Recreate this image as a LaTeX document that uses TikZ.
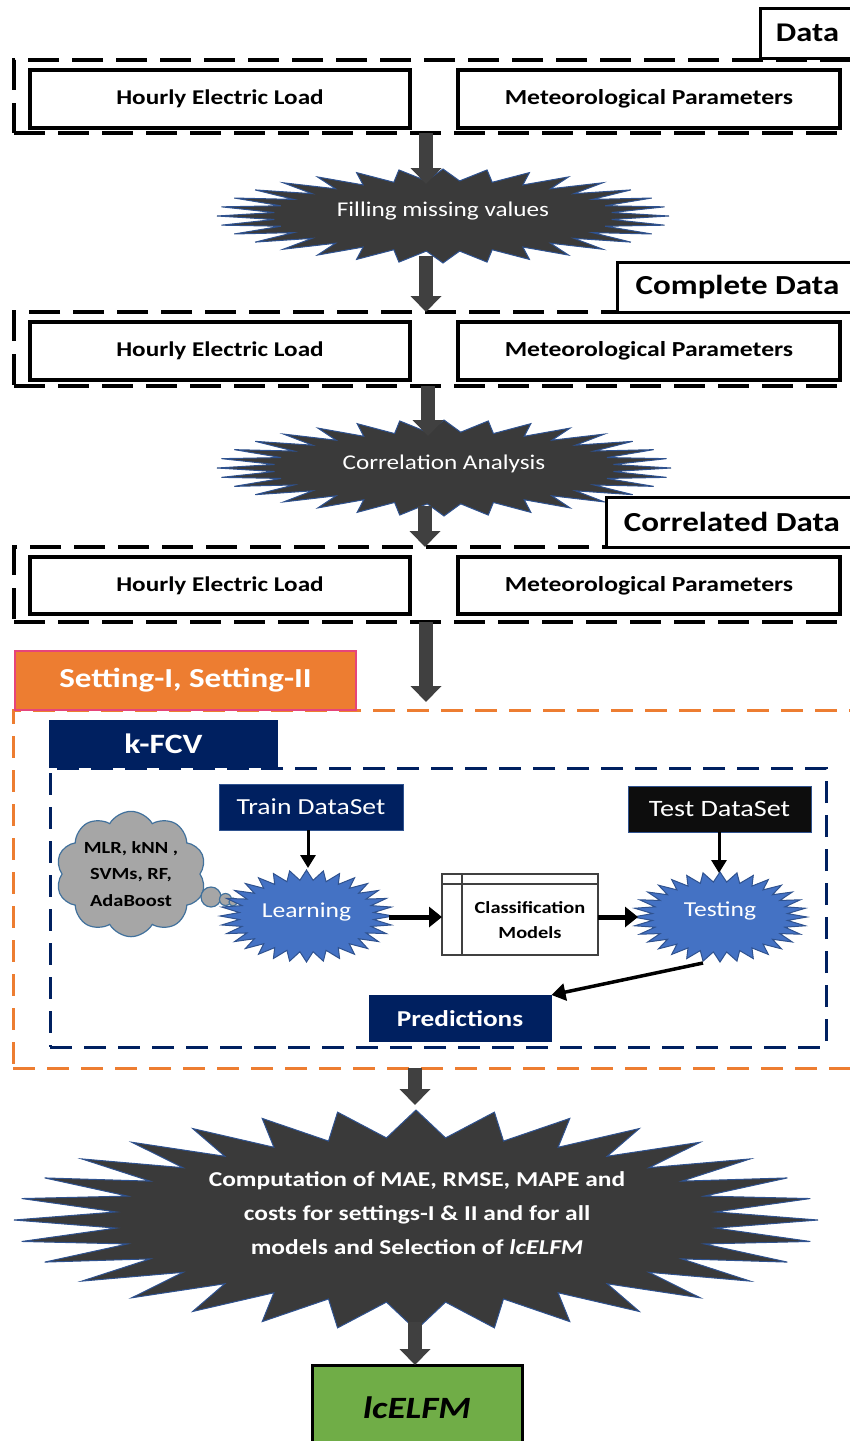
\documentclass[tikz,border=0pt]{standalone}
\usepackage{fontspec}
\setmainfont{Carlito}[FakeStretch=1.2]
\usetikzlibrary{shapes.symbols,arrows.meta}
\definecolor{dgray}{HTML}{404040}
\definecolor{sgray}{HTML}{3A3A3A}
\definecolor{sedge}{HTML}{2F528F}
\definecolor{navy}{HTML}{002060}
\definecolor{obox}{HTML}{ED7D31}
\definecolor{opink}{HTML}{E6457A}
\definecolor{sblue}{HTML}{4472C4}
\definecolor{lgreen}{HTML}{70AD47}
\definecolor{cgray}{HTML}{A6A6A6}
\definecolor{cedge}{HTML}{41719C}
\definecolor{tblack}{HTML}{0D0D0D}
\newcommand{\mystar}[6]{\filldraw[#6] plot[samples at={0,...,63}, variable=\k] ({#1+#3*(1-(1-#5)*mod(\k,2))*cos(90+\k*5.625)}, {#2-#4*(1-(1-#5)*mod(\k,2))*sin(90+\k*5.625)}) -- cycle;}
\begin{document}
\begin{tikzpicture}[x=1pt,y=-1pt,
  dbox/.style={draw=black, line width=3.5pt, dash pattern=on 31pt off 13pt, inner sep=0pt, outer sep=0pt},
  inbox/.style={draw=black, line width=3.5pt, fill=white, minimum width=380pt, minimum height=58pt, inner sep=0pt, outer sep=0pt, font=\bfseries\fontsize{21}{25}\selectfont},
  lbl/.style={draw=black, line width=3pt, fill=white, minimum height=50pt, inner sep=0pt, outer sep=0pt, font=\bfseries\fontsize{27.5}{32}\selectfont},
  startext/.style={text=white, font=\fontsize{21}{25}\selectfont, align=center, inner sep=0pt},
  graystar/.style={fill=sgray, draw=sedge, line width=1pt},
  bluestar/.style={fill=sblue, draw=sedge, line width=1pt},
  blockarrow/.style={draw=dgray, line width=14pt, -{Triangle[length=16pt,width=30pt]}},
  thinarrow/.style={draw=black, line width=3pt, -{Triangle[length=13pt,width=15pt]}},
  thickarrow/.style={draw=black, line width=5pt, -{Triangle[length=13pt,width=20pt]}},
  navybox/.style={fill=navy, text=white, inner sep=0pt, outer sep=0pt},
]
\useasboundingbox (0,0) rectangle (850,1441);

% ---------- Data block 1
\node[dbox, minimum width=844pt, minimum height=73pt] (c1) at (436,96.5) {};
\node[inbox] (hel1) at (220,99) {Hourly Electric Load};
\node[inbox, minimum width=382pt, font=\bfseries\fontsize{21.4}{25}\selectfont] (met1) at (649,99) {Meteorological Parameters};
\node[lbl, minimum width=95pt, font=\bfseries\fontsize{27}{32}\selectfont] (ldata) at (807.5,33) {Data};

% ---------- star 1
\mystar{443}{216}{226}{47}{0.75}{graystar}
\node[startext] (s1) at (443,211) {Filling missing values};
\coordinate (s1n) at (426,184);
\coordinate (s1s) at (426,256);

% ---------- Data block 2
\node[dbox, minimum width=844pt, minimum height=74pt] (c2) at (436,349) {};
\node[inbox] (hel2) at (220,351) {Hourly Electric Load};
\node[inbox, minimum width=382pt, font=\bfseries\fontsize{21.4}{25}\selectfont] (met2) at (649,351) {Meteorological Parameters};
\node[lbl, minimum width=241pt] (lcomp) at (737.5,287) {Complete Data};

% ---------- star 2
\mystar{444}{468}{227}{48}{0.75}{graystar}
\node[startext] (s2) at (444,464) {Correlation Analysis};
\coordinate (s2n) at (428,436);
\coordinate (s2s) at (425,506);

% ---------- Data block 3
\node[dbox, minimum width=844pt, minimum height=75pt] (c3) at (436,584.5) {};
\node[inbox, minimum height=57pt] (hel3) at (220,585.5) {Hourly Electric Load};
\node[inbox, minimum width=382pt, minimum height=57pt, font=\bfseries\fontsize{21.4}{25}\selectfont] (met3) at (649,585.5) {Meteorological Parameters};
\node[lbl, minimum width=252pt] (lcorr) at (732,522) {Correlated Data};

% ---------- block arrows top
\draw[blockarrow] (c1.south -| s1n) -- (s1n);
\draw[blockarrow] (s1s) -- (c2.north -| s1s);
\draw[blockarrow] (c2.south -| s2n) -- (s2n);
\draw[blockarrow] (s2s) -- (c3.north -| s2s);

% ---------- Setting container
\node[draw=obox, line width=3pt, dash pattern=on 22pt off 12pt, minimum width=845pt, minimum height=358pt, inner sep=0pt, outer sep=0pt] (oc) at (435.5,889) {};
\coordinate (ocn) at (426,702);
\draw[blockarrow] (c3.south -| ocn) -- (ocn);
\node[fill=obox, draw=opink, line width=1.5pt, text=white, minimum width=341pt, minimum height=59pt, inner sep=0pt, font=\bfseries\fontsize{27.5}{32}\selectfont] (lset) at (185.5,680.5) {Setting-I, Setting-II};

% ---------- k-FCV container
\node[draw=navy, line width=3pt, dash pattern=on 22pt off 12pt, minimum width=776pt, minimum height=279pt, inner sep=0pt, outer sep=0pt] (nc) at (438,907.5) {};
\node[navybox, minimum width=229pt, minimum height=48pt, font=\bfseries\fontsize{28}{32}\selectfont] (lk) at (163.5,744) {k-FCV};

\node[navybox, draw=sedge, line width=1pt, minimum width=184pt, minimum height=46pt, font=\fontsize{23}{26}\selectfont] (train) at (311,807) {Train DataSet};
\node[fill=tblack, text=white, draw=sedge, line width=1pt, inner sep=0pt, outer sep=0pt, minimum width=183pt, minimum height=46pt, font=\fontsize{23.5}{26}\selectfont] (test) at (719.5,809) {Test DataSet};

% cloud
\node[cloud, cloud puffs=10, cloud puff arc=120, aspect=1.25, fill=cgray, draw=cedge, line width=1.2pt, minimum width=150pt, minimum height=122pt, inner sep=0pt, align=center, font=\bfseries\fontsize{17}{26.5}\selectfont] (cl) at (131,874) {MLR, kNN ,\\SVMs, RF,\\AdaBoost};
\draw[fill=cgray, draw=cedge, line width=1.2pt] (211,897) circle (10);
\draw[fill=cgray, draw=cedge, line width=1.2pt] (225.5,899.5) circle (6);
\draw[fill=cgray, draw=cedge, line width=1.2pt] (233,902) circle (4);

% learning star
\mystar{306.5}{916}{86.5}{46}{0.78}{bluestar}
\node[startext, font=\fontsize{21.3}{26}\selectfont] (learn) at (306.5,912) {Learning};
\coordinate (learnN) at (308,868);
\coordinate (learnE) at (389,917);

% classification models
\node[draw=dgray, line width=1.5pt, fill=white, minimum width=156pt, minimum height=81pt, inner sep=0pt, outer sep=0pt] (cm) at (520,914.5) {};
\draw[dgray, line width=1.2pt] ([yshift=-10pt]cm.north west) -- ([yshift=-10pt]cm.north east);
\draw[dgray, line width=1.2pt] ([xshift=20pt]cm.north west) -- ([xshift=20pt]cm.south west);
\node[align=center, inner sep=0pt, font=\bfseries\fontsize{17}{25}\selectfont] (cmt) at (530,920) {Classification\\Models};

% testing star
\mystar{720}{917}{87}{45}{0.78}{bluestar}
\node[startext, font=\fontsize{21.3}{26}\selectfont] (tst) at (720,911) {Testing};
\coordinate (tstN) at (719,873);
\coordinate (tstW) at (638,917);
\coordinate (tstS) at (703,963);

\node[navybox, minimum width=183pt, minimum height=47pt, font=\bfseries\fontsize{22.7}{26}\selectfont] (pred) at (460,1018.5) {Predictions};

\draw[thinarrow] (train.south -| learnN) -- (learnN);
\draw[thinarrow] (test.south -| tstN) -- (tstN);
\draw[thickarrow] (learnE) -- (cm.west |- learnE);
\draw[thickarrow] (cm.east |- tstW) -- (tstW);
\draw[line width=3.5pt, -{Triangle[length=14pt,width=17pt]}] (tstS) -- (pred.north east);

% ---------- final star
\coordinate (bsn) at (415,1105);
\draw[blockarrow] (oc.south -| bsn) -- (bsn);
\mystar{416}{1220}{402}{110}{0.75}{graystar}
\node[startext, font=\bfseries\fontsize{21.2}{34}\selectfont] (bs) at (417,1213) {Computation of MAE, RMSE, MAPE and\\costs for settings-I \& II and for all\\models and Selection of \textit{lcELFM}};
\coordinate (bss) at (415,1322);

\node[fill=lgreen, draw=black, line width=3pt, minimum width=210pt, minimum height=85pt, inner sep=0pt, outer sep=0pt, font=\bfseries\itshape\fontsize{31}{34}\selectfont] (fin) at (417,1407.5) {lcELFM};
\draw[blockarrow] (bss) -- (fin.north -| bss);
\end{tikzpicture}
\end{document}
